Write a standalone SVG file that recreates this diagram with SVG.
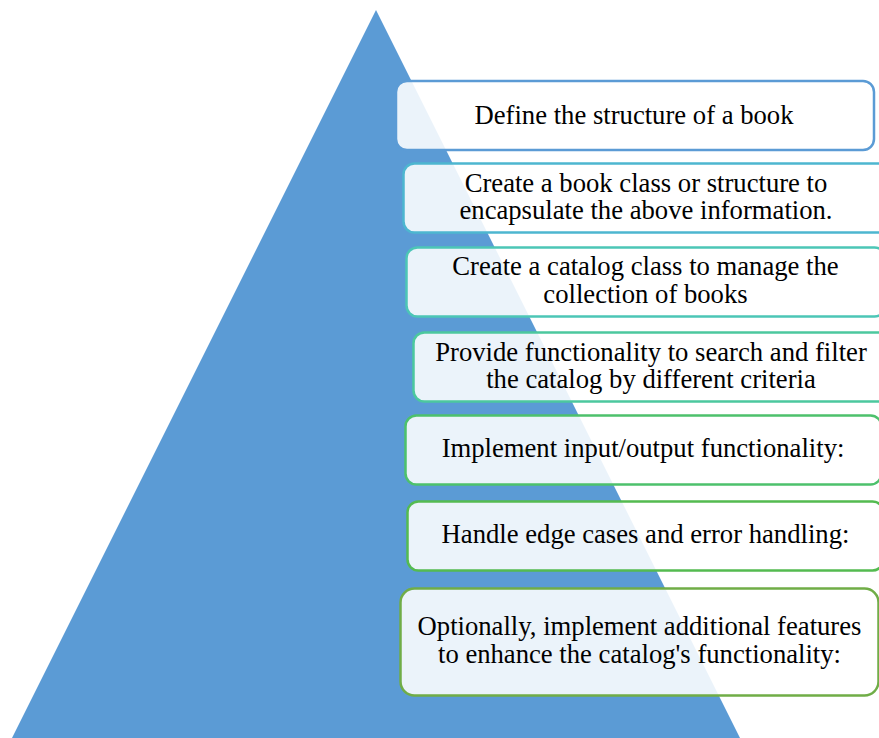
<svg xmlns="http://www.w3.org/2000/svg" width="879" height="738" viewBox="0 0 879 738">
<style>
.box{fill:#ffffff;fill-opacity:0.88;stroke-width:2.5}
.t{font-family:"Liberation Serif","Times New Roman",serif;font-size:26.67px;fill:#000;text-anchor:middle}
</style>
<rect width="879" height="738" fill="#ffffff"/>
<polygon id="pyramid" points="376,10 740,738 12,738" fill="#5B9BD5"/>
<g id="n1"><rect class="box" x="396" y="81" width="478" height="69" rx="11" stroke="#5B9BD5"/><text class="t" x="634" y="123.5">Define the structure of a book</text></g>
<g id="n2"><rect class="box" x="403.5" y="163.5" width="485" height="69" rx="11" stroke="#4DB6D0"/><text class="t" x="646" y="191.5">Create a book class or structure to</text><text class="t" x="646" y="219">encapsulate the above information.</text></g>
<g id="n3"><rect class="box" x="406.5" y="247.5" width="479" height="69" rx="11" stroke="#4CC6B6"/><text class="t" x="645.5" y="275">Create a catalog class to manage the</text><text class="t" x="645.5" y="303">collection of books</text></g>
<g id="n4"><rect class="box" x="413.5" y="332.5" width="476" height="69" rx="11" stroke="#4CC89E"/><text class="t" x="651" y="360.5">Provide functionality to search and filter</text><text class="t" x="651" y="388">the catalog by different criteria</text></g>
<g id="n5"><rect class="box" x="405.5" y="415.5" width="476" height="69" rx="11" stroke="#4DC16C"/><text class="t" x="643" y="457">Implement input/output functionality:</text></g>
<g id="n6"><rect class="box" x="407.5" y="501.5" width="476" height="69" rx="11" stroke="#54BB50"/><text class="t" x="645.5" y="543">Handle edge cases and error handling:</text></g>
<g id="n7"><rect class="box" x="400.5" y="588.5" width="478" height="107" rx="14" stroke="#70AD47"/><text class="t" x="639.5" y="634.5">Optionally, implement additional features</text><text class="t" x="639.5" y="662.5">to enhance the catalog's functionality:</text></g>
<g id="connectors"></g>
</svg>
